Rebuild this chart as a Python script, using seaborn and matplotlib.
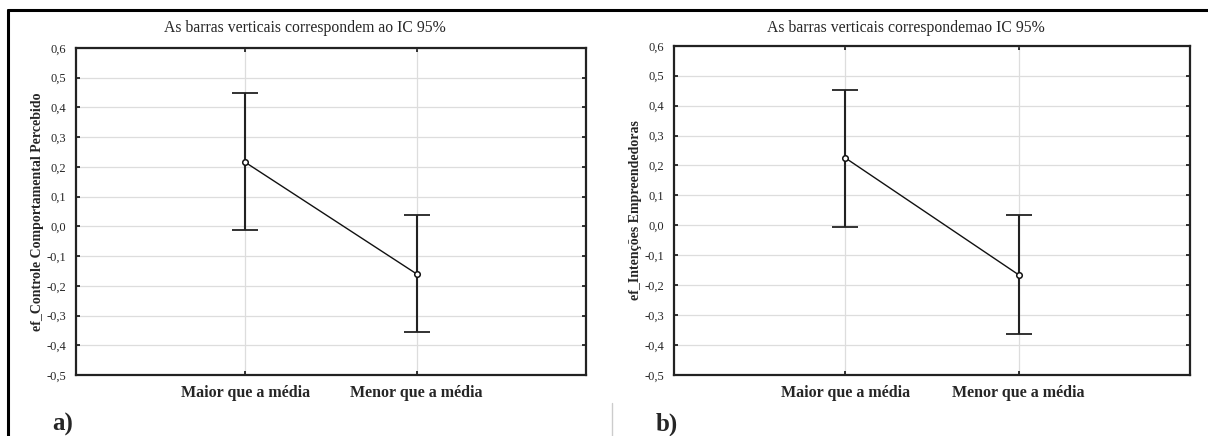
import numpy as np
import pandas as pd
import matplotlib
matplotlib.use("Agg")
import matplotlib.pyplot as plt
import seaborn as sns
from matplotlib.lines import Line2D

categories = ["Maior que a média", "Menor que a média"]

# panel a) ef_Controle Comportamental Percebido
mean_a = [0.215, -0.160]
low_a = [-0.012, -0.357]
high_a = [0.447, 0.037]

# panel b) ef_Intenções Empreendedoras
mean_b = [0.225, -0.165]
low_b = [-0.005, -0.362]
high_b = [0.452, 0.033]

yticks = [-0.5, -0.4, -0.3, -0.2, -0.1, 0.0, 0.1, 0.2, 0.3, 0.4, 0.5, 0.6]

panels = [
    dict(mean=mean_a, low=low_a, high=high_a,
         ylabel="ef_Controle Comportamental Percebido",
         title="As barras verticais correspondem ao IC 95%",
         tag="a)", rect=[0.0629, 0.140, 0.4222, 0.750], title_x=0.252, tag_x=0.043),
    dict(mean=mean_b, low=low_b, high=high_b,
         ylabel="ef_Intenções Empreendedoras",
         title="As barras verticais correspondemao IC 95%",
         tag="b)", rect=[0.558, 0.140, 0.427, 0.755], title_x=0.750, tag_x=0.543),
]

sns.set_theme(style="white")
plt.rcParams['font.family'] = ['Liberation Serif', 'DejaVu Serif']

fig = plt.figure(figsize=(12.08, 4.36), dpi=100)

for p in panels:
    ax = fig.add_axes(p["rect"])
    df = pd.DataFrame({"grupo": categories, "valor": p["mean"]})
    xs = np.arange(len(categories))

    ax.grid(True, color="#dddddd", linewidth=0.9, zorder=0)
    ax.set_axisbelow(True)

    sns.lineplot(data=df, x="grupo", y="valor", ax=ax, color="#111111",
                 linewidth=1.0, sort=False, zorder=3)
    mean = np.array(p["mean"])
    yerr = np.vstack([mean - np.array(p["low"]), np.array(p["high"]) - mean])
    ax.errorbar(xs, mean, yerr=yerr, fmt="none", ecolor="#222222",
                elinewidth=1.5, capsize=9.5, capthick=1.3, zorder=2)
    ax.plot(xs, mean, linestyle="none", marker="o", markersize=4,
            markerfacecolor="white", markeredgecolor="#111111",
            markeredgewidth=1.1, zorder=4)

    ax.set_xlim(-0.99, 1.99)
    ax.set_ylim(-0.5, 0.6)
    ax.set_xticks(xs)
    ax.set_xticklabels(categories, fontsize=11.5, fontweight="bold")
    ax.set_yticks(yticks)
    ax.set_yticklabels([f"{v:.1f}".replace(".", ",") for v in yticks], fontsize=9)
    ax.set_xlabel("")
    ax.set_ylabel(p["ylabel"], fontsize=10, fontweight="bold", labelpad=2)
    ax.tick_params(axis="both", direction="in", length=3, width=1.2,
                   color="#111111", top=True, right=True, bottom=True, left=True,
                   pad=7)
    ax.tick_params(axis="x", pad=7)
    for s in ax.spines.values():
        s.set_color("#222222")
        s.set_linewidth(1.6)

    fig.text(p["title_x"], 0.935, p["title"], ha="center", va="center", fontsize=11.3)
    fig.text(p["tag_x"], 0.0, p["tag"], ha="left", va="bottom", fontsize=18,
             fontweight="bold")

# outer frame: left and top lines, plus faint divider
fig.add_artist(Line2D([0.0066, 0.0066], [0.0, 0.978], transform=fig.transFigure,
                      color="black", linewidth=2.2))
fig.add_artist(Line2D([0.0066, 1.0], [0.978, 0.978], transform=fig.transFigure,
                      color="black", linewidth=2.2))
fig.add_artist(Line2D([0.507, 0.507], [0.0, 0.075], transform=fig.transFigure,
                      color="#cccccc", linewidth=1.0))

fig.savefig("out.png", dpi=100)
plt.close(fig)
